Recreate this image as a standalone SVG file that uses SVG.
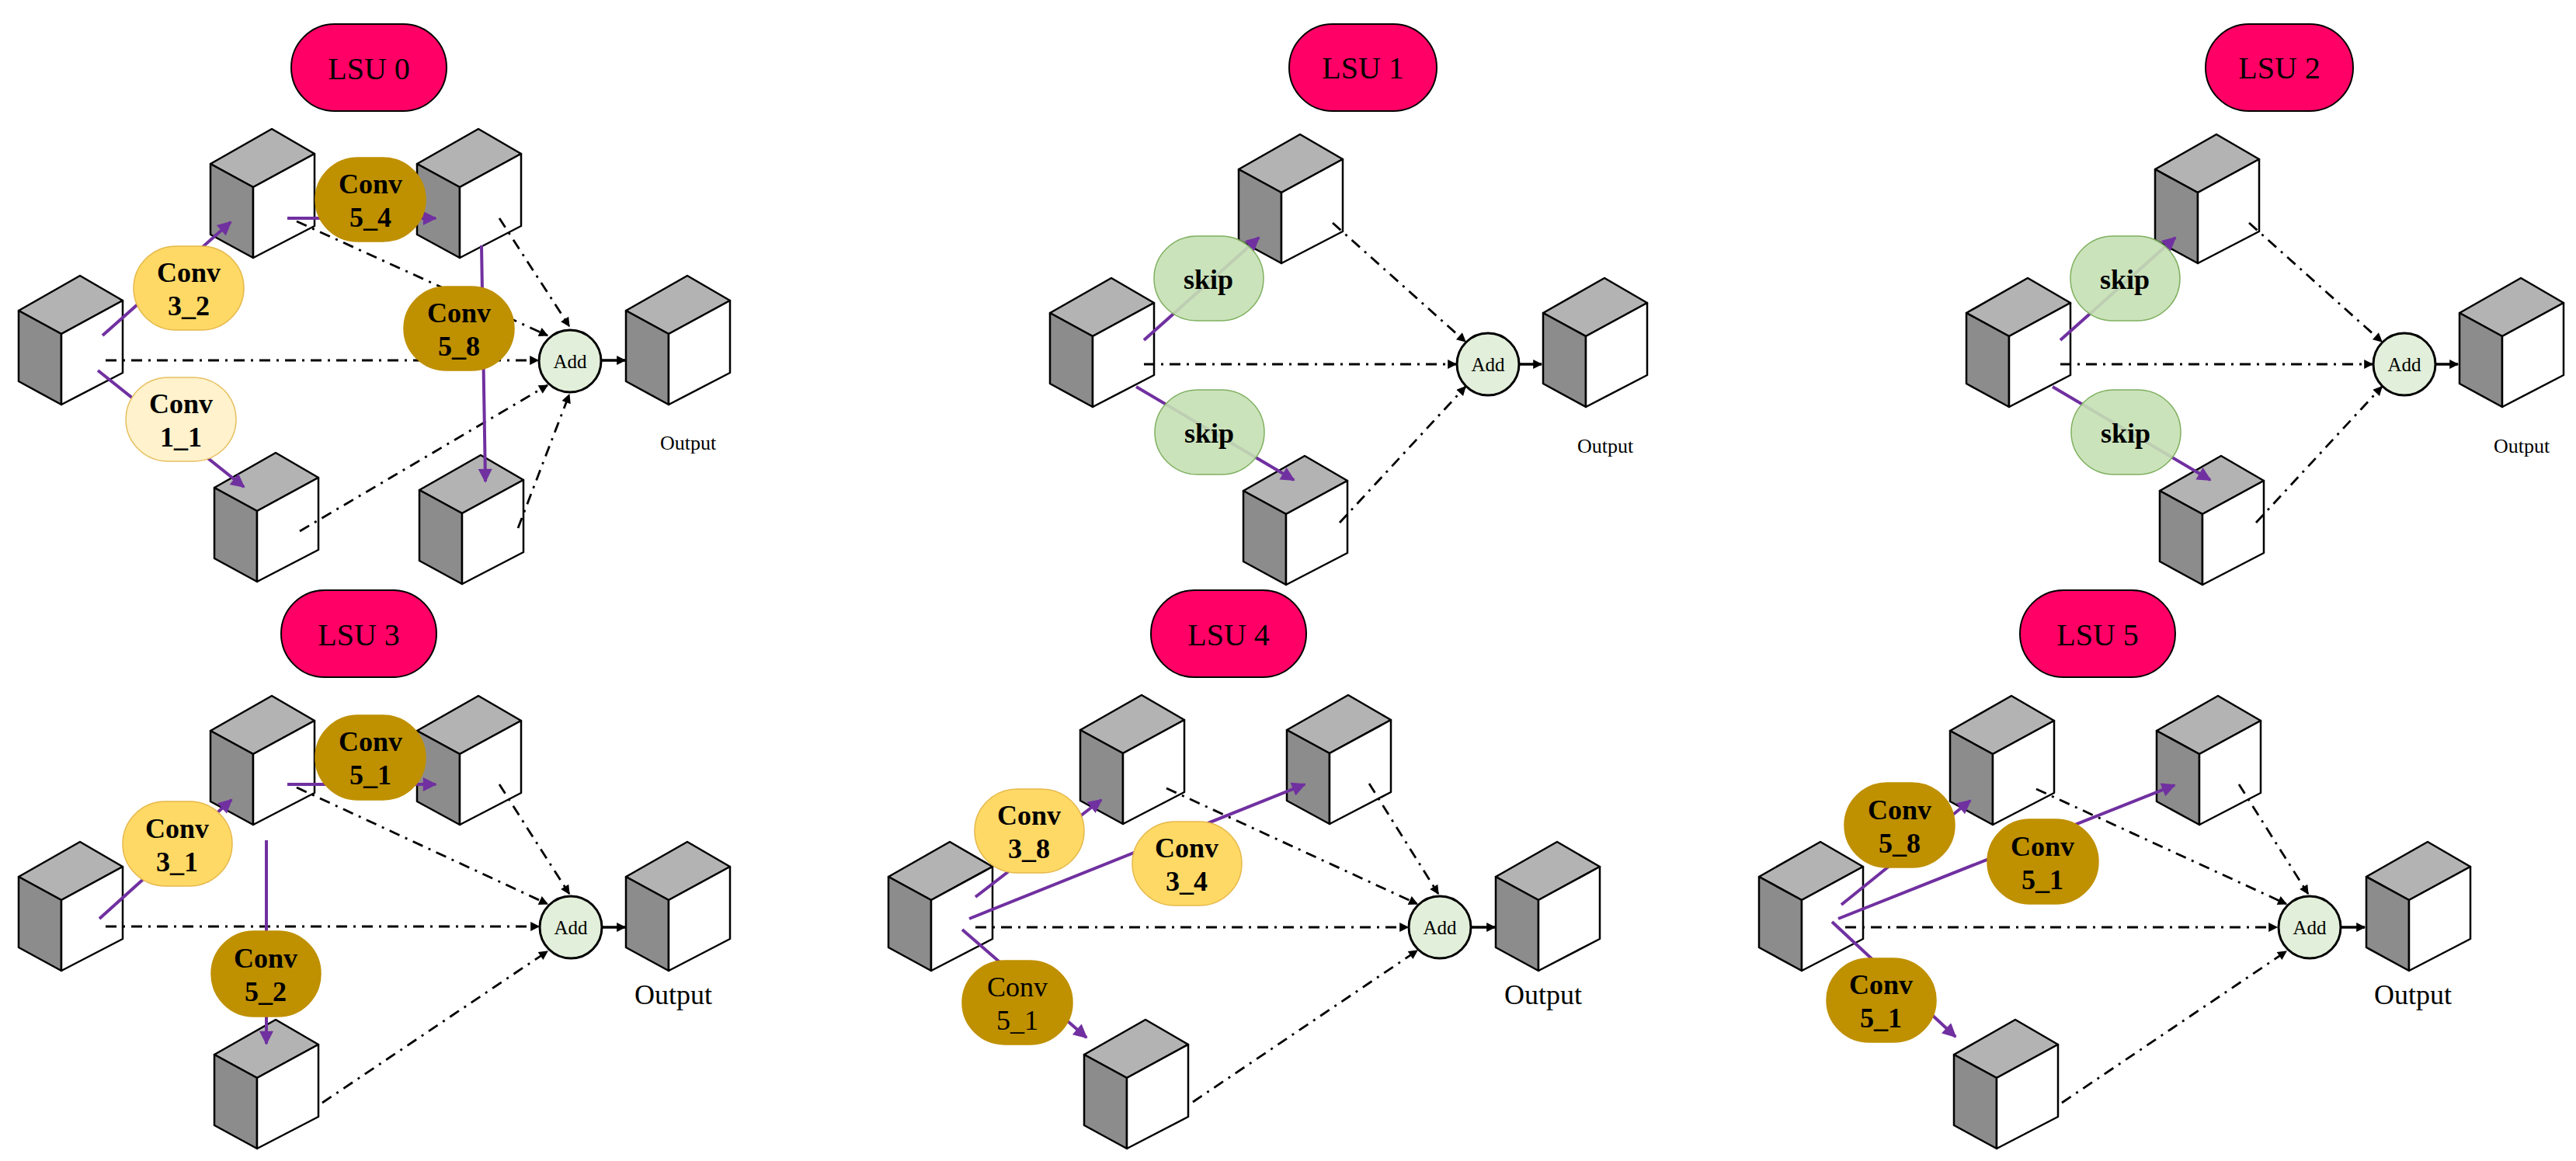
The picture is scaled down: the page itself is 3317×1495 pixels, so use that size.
<svg xmlns="http://www.w3.org/2000/svg" xmlns:xlink="http://www.w3.org/1999/xlink" width="3317" height="1495" viewBox="0 0 3317 1495">
<style>
.bg{fill:#ffffff}
.lsu rect{fill:#ff0066;stroke:#000;stroke-width:2}
.lsu text{font-family:"Liberation Serif",serif;font-size:40px;text-anchor:middle;fill:#000}
.n text{font-family:"Liberation Serif",serif;font-size:36px;font-weight:bold;text-anchor:middle;fill:#000}
.n.reg text{font-weight:normal}
.y rect{fill:#ffd966;stroke:#e6b84a;stroke-width:1.5}
.ly rect{fill:#fff2cc;stroke:#e6c060;stroke-width:1.5}
.d rect{fill:#bf9000;stroke:#bf9000;stroke-width:1.5}
.s rect{fill:#c5e0b4;fill-opacity:0.9;stroke:#7fb05f;stroke-width:1.5}
.add circle{fill:#e2efda;stroke:#000;stroke-width:3}
.add text{font-family:"Liberation Serif",serif;font-size:25px;text-anchor:middle}
.out{font-family:"Liberation Serif",serif;text-anchor:middle}
.p{stroke:#7030a0;stroke-width:4;fill:none;marker-end:url(#ap)}
.dd{stroke:#000;stroke-width:2.8;fill:none;stroke-dasharray:14 8 3 8;marker-end:url(#ab)}
.sl{stroke:#000;stroke-width:3.5;fill:none;marker-end:url(#ab)}
.ct{fill:#b3b3b3}.cl{fill:#8c8c8c}.cf{fill:#fff}
.cube path{stroke:#000;stroke-width:2.5;stroke-linejoin:round}
</style>
<defs>
<marker id="ap" viewBox="0 0 10 10" refX="9" refY="5" markerWidth="22" markerHeight="18" markerUnits="userSpaceOnUse" orient="auto"><path d="M0,0 L10,5 L0,10 Z" fill="#7030a0"/></marker>
<marker id="ab" viewBox="0 0 10 10" refX="9" refY="5" markerWidth="14" markerHeight="12" markerUnits="userSpaceOnUse" orient="auto"><path d="M0,0 L10,5 L0,10 Z" fill="#000"/></marker>
<g id="cube" class="cube"><path class="ct" d="M0,0 L79,-45 L134,-13 L55,30 Z"/><path class="cl" d="M0,0 L55,30 L55,121 L0,91 Z"/><path class="cf" d="M55,30 L134,-13 L134,80 L55,121 Z"/></g>
</defs>
<rect class="bg" x="0" y="0" width="3317" height="1495"/>

<!-- ===== LSU 0 ===== -->
<g id="lsu0-cubes">
<use xlink:href="#cube" x="24" y="400"/>
<use xlink:href="#cube" x="271" y="211"/>
<use xlink:href="#cube" x="537" y="211"/>
<use xlink:href="#cube" x="276" y="628"/>
<use xlink:href="#cube" x="540" y="631"/>
<use xlink:href="#cube" x="806" y="400"/>
</g>
<g id="lsu0-connectors">
<line class="dd" x1="136" y1="464" x2="693" y2="464"/>
<line class="dd" x1="382" y1="285" x2="705" y2="432"/>
<line class="dd" x1="643" y1="281" x2="733" y2="420"/>
<line class="dd" x1="386" y1="684" x2="705" y2="496"/>
<line class="dd" x1="667" y1="680" x2="733" y2="508"/>
<line class="sl" x1="775" y1="464" x2="805" y2="464"/>
<line class="p" x1="132" y1="432" x2="297" y2="286"/>
<line class="p" x1="126" y1="477" x2="314" y2="627"/>
<line class="p" x1="370" y1="281" x2="561" y2="281"/>
<line class="p" x1="620" y1="316" x2="625" y2="620"/>
</g>
<g id="lsu0-label" class="lsu"><rect x="375" y="31" width="200" height="112" rx="56"/><text x="475" y="102">LSU 0</text></g>
<g id="lsu0-conv3_2" class="n y"><rect x="172" y="317" width="142" height="108" rx="55"/><text x="243" y="363">Conv</text><text x="243" y="406">3_2</text></g>
<g id="lsu0-conv1_1" class="n ly"><rect x="162" y="486" width="142" height="108" rx="55"/><text x="233" y="532">Conv</text><text x="233" y="575">1_1</text></g>
<g id="lsu0-conv5_4" class="n d"><rect x="406" y="203" width="142" height="108" rx="55"/><text x="477" y="249">Conv</text><text x="477" y="292">5_4</text></g>
<g id="lsu0-conv5_8" class="n d"><rect x="520" y="369" width="142" height="108" rx="55"/><text x="591" y="415">Conv</text><text x="591" y="458">5_8</text></g>
<g id="lsu0-add" class="add"><circle cx="734" cy="465" r="40"/><text x="734" y="474">Add</text></g>
<text id="lsu0-output" class="out" x="886" y="579" font-size="26">Output</text>

<!-- ===== LSU 1 ===== -->
<g id="lsu1-cubes">
<use xlink:href="#cube" x="1352" y="403"/>
<use xlink:href="#cube" x="1595" y="218"/>
<use xlink:href="#cube" x="1601" y="632"/>
<use xlink:href="#cube" x="1987" y="403"/>
</g>
<g id="lsu1-connectors">
<line class="dd" x1="1473" y1="469" x2="1875" y2="469"/>
<line class="dd" x1="1716" y1="287" x2="1887" y2="440"/>
<line class="dd" x1="1725" y1="673" x2="1887" y2="498"/>
<line class="sl" x1="1956" y1="469" x2="1985" y2="469"/>
<line class="p" x1="1473" y1="438" x2="1621" y2="306"/>
<line class="p" x1="1463" y1="498" x2="1666" y2="618"/>
</g>
<g id="lsu1-label" class="lsu"><rect x="1660" y="31" width="190" height="112" rx="56"/><text x="1755" y="101">LSU 1</text></g>
<g id="lsu1-skip-top" class="n s"><rect x="1486" y="304" width="141" height="109" rx="55"/><text x="1556" y="372">skip</text></g>
<g id="lsu1-skip-bottom" class="n s"><rect x="1487" y="502" width="141" height="109" rx="55"/><text x="1557" y="570">skip</text></g>
<g id="lsu1-add" class="add"><circle cx="1916" cy="469" r="40"/><text x="1916" y="478">Add</text></g>
<text id="lsu1-output" class="out" x="2067" y="583" font-size="26">Output</text>

<!-- ===== LSU 2 ===== -->
<g id="lsu2-cubes">
<use xlink:href="#cube" x="2532" y="403"/>
<use xlink:href="#cube" x="2775" y="218"/>
<use xlink:href="#cube" x="2781" y="632"/>
<use xlink:href="#cube" x="3167" y="403"/>
</g>
<g id="lsu2-connectors">
<line class="dd" x1="2653" y1="469" x2="3055" y2="469"/>
<line class="dd" x1="2896" y1="287" x2="3067" y2="440"/>
<line class="dd" x1="2905" y1="673" x2="3067" y2="498"/>
<line class="sl" x1="3136" y1="469" x2="3165" y2="469"/>
<line class="p" x1="2653" y1="438" x2="2801" y2="306"/>
<line class="p" x1="2643" y1="498" x2="2846" y2="618"/>
</g>
<g id="lsu2-label" class="lsu"><rect x="2840" y="31" width="190" height="112" rx="56"/><text x="2935" y="101">LSU 2</text></g>
<g id="lsu2-skip-top" class="n s"><rect x="2666" y="304" width="141" height="109" rx="55"/><text x="2736" y="372">skip</text></g>
<g id="lsu2-skip-bottom" class="n s"><rect x="2667" y="502" width="141" height="109" rx="55"/><text x="2737" y="570">skip</text></g>
<g id="lsu2-add" class="add"><circle cx="3096" cy="469" r="40"/><text x="3096" y="478">Add</text></g>
<text id="lsu2-output" class="out" x="3247" y="583" font-size="26">Output</text>

<!-- ===== LSU 3 ===== -->
<g id="lsu3-cubes">
<use xlink:href="#cube" x="24" y="1129"/>
<use xlink:href="#cube" x="271" y="941"/>
<use xlink:href="#cube" x="537" y="941"/>
<use xlink:href="#cube" x="276" y="1358"/>
<use xlink:href="#cube" x="806" y="1129"/>
</g>
<g id="lsu3-connectors">
<line class="dd" x1="136" y1="1193" x2="694" y2="1193"/>
<line class="dd" x1="382" y1="1014" x2="705" y2="1164"/>
<line class="dd" x1="643" y1="1010" x2="733" y2="1151"/>
<line class="dd" x1="415" y1="1420" x2="705" y2="1225"/>
<line class="sl" x1="775" y1="1194" x2="805" y2="1194"/>
<line class="p" x1="128" y1="1183" x2="298" y2="1030"/>
<line class="p" x1="370" y1="1010" x2="561" y2="1010"/>
<line class="p" x1="343" y1="1082" x2="343" y2="1344"/>
</g>
<g id="lsu3-label" class="lsu"><rect x="362" y="760" width="200" height="112" rx="56"/><text x="462" y="831">LSU 3</text></g>
<g id="lsu3-conv3_1" class="n y"><rect x="158" y="1032" width="141" height="109" rx="55"/><text x="228" y="1079">Conv</text><text x="228" y="1122">3_1</text></g>
<g id="lsu3-conv5_1" class="n d"><rect x="406" y="921" width="142" height="109" rx="55"/><text x="477" y="967">Conv</text><text x="477" y="1010">5_1</text></g>
<g id="lsu3-conv5_2" class="n d"><rect x="272" y="1199" width="141" height="110" rx="55"/><text x="342" y="1246">Conv</text><text x="342" y="1289">5_2</text></g>
<g id="lsu3-add" class="add"><circle cx="735" cy="1194" r="40"/><text x="735" y="1203">Add</text></g>
<text id="lsu3-output" class="out" x="867" y="1293" font-size="36">Output</text>

<!-- ===== LSU 4 ===== -->
<g id="lsu4-cubes">
<use xlink:href="#cube" x="1144" y="1129"/>
<use xlink:href="#cube" x="1391" y="940"/>
<use xlink:href="#cube" x="1657" y="940"/>
<use xlink:href="#cube" x="1396" y="1358"/>
<use xlink:href="#cube" x="1926" y="1129"/>
</g>
<g id="lsu4-connectors">
<line class="dd" x1="1256" y1="1194" x2="1813" y2="1194"/>
<line class="dd" x1="1502" y1="1015" x2="1825" y2="1164"/>
<line class="dd" x1="1763" y1="1009" x2="1852" y2="1151"/>
<line class="dd" x1="1536" y1="1419" x2="1825" y2="1224"/>
<line class="sl" x1="1895" y1="1194" x2="1925" y2="1194"/>
<line class="p" x1="1256" y1="1155" x2="1418" y2="1030"/>
<line class="p" x1="1248" y1="1183" x2="1680" y2="1010"/>
<line class="p" x1="1239" y1="1197" x2="1399" y2="1336"/>
</g>
<g id="lsu4-label" class="lsu"><rect x="1482" y="760" width="200" height="112" rx="56"/><text x="1582" y="831">LSU 4</text></g>
<g id="lsu4-conv3_8" class="n y"><rect x="1255" y="1016" width="141" height="108" rx="55"/><text x="1325" y="1062">Conv</text><text x="1325" y="1105">3_8</text></g>
<g id="lsu4-conv3_4" class="n y"><rect x="1458" y="1058" width="141" height="108" rx="55"/><text x="1528" y="1104">Conv</text><text x="1528" y="1147">3_4</text></g>
<g id="lsu4-conv5_1" class="n d reg"><rect x="1239" y="1237" width="142" height="108" rx="55"/><text x="1310" y="1283">Conv</text><text x="1310" y="1326">5_1</text></g>
<g id="lsu4-add" class="add"><circle cx="1854" cy="1194" r="40"/><text x="1854" y="1203">Add</text></g>
<text id="lsu4-output" class="out" x="1987" y="1293" font-size="36">Output</text>

<!-- ===== LSU 5 ===== -->
<g id="lsu5-cubes">
<use xlink:href="#cube" x="2265" y="1129"/>
<use xlink:href="#cube" x="2511" y="941"/>
<use xlink:href="#cube" x="2777" y="941"/>
<use xlink:href="#cube" x="2516" y="1358"/>
<use xlink:href="#cube" x="3047" y="1129"/>
</g>
<g id="lsu5-connectors">
<line class="dd" x1="2376" y1="1194" x2="2932" y2="1194"/>
<line class="dd" x1="2622" y1="1016" x2="2944" y2="1164"/>
<line class="dd" x1="2883" y1="1010" x2="2972" y2="1151"/>
<line class="dd" x1="2655" y1="1420" x2="2944" y2="1225"/>
<line class="sl" x1="3015" y1="1194" x2="3045" y2="1194"/>
<line class="p" x1="2371" y1="1165" x2="2537" y2="1031"/>
<line class="p" x1="2367" y1="1183" x2="2800" y2="1011"/>
<line class="p" x1="2359" y1="1187" x2="2518" y2="1335"/>
</g>
<g id="lsu5-label" class="lsu"><rect x="2601" y="760" width="200" height="112" rx="56"/><text x="2701" y="831">LSU 5</text></g>
<g id="lsu5-conv5_8" class="n d"><rect x="2375" y="1008" width="142" height="109" rx="55"/><text x="2446" y="1055">Conv</text><text x="2446" y="1098">5_8</text></g>
<g id="lsu5-conv5_1-mid" class="n d"><rect x="2559" y="1055" width="143" height="109" rx="55"/><text x="2630" y="1102">Conv</text><text x="2630" y="1145">5_1</text></g>
<g id="lsu5-conv5_1-bottom" class="n d"><rect x="2352" y="1234" width="141" height="108" rx="55"/><text x="2422" y="1280">Conv</text><text x="2422" y="1323">5_1</text></g>
<g id="lsu5-add" class="add"><circle cx="2974" cy="1194" r="40"/><text x="2974" y="1203">Add</text></g>
<text id="lsu5-output" class="out" x="3107" y="1293" font-size="36">Output</text>
</svg>
